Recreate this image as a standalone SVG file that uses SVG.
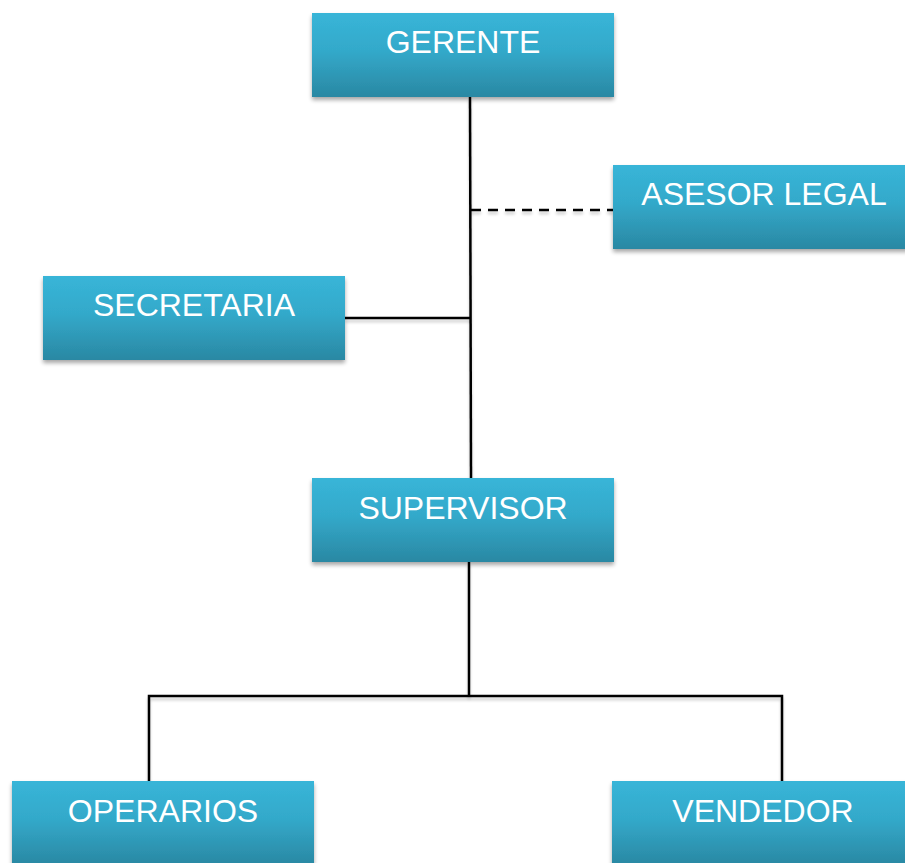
<svg xmlns="http://www.w3.org/2000/svg" width="905" height="863" viewBox="0 0 905 863">
<style>
.box{fill:url(#g);filter:url(#sh);}
.lbl{font-family:"Liberation Sans",Arial,sans-serif;font-size:32px;fill:#ffffff;text-anchor:middle;}
.ln{stroke:#000;stroke-width:2.5;fill:none;filter:url(#sh2);}
</style>
<defs>
<linearGradient id="g" x1="0" y1="0" x2="0" y2="1">
<stop offset="0" stop-color="#38b5d8"/>
<stop offset="0.45" stop-color="#33a9ca"/>
<stop offset="1" stop-color="#2a88a3"/>
</linearGradient>
<filter id="sh" x="-10%" y="-10%" width="120%" height="130%">
<feGaussianBlur in="SourceAlpha" stdDeviation="2"/>
<feOffset dx="0" dy="3" result="b"/>
<feComponentTransfer><feFuncA type="linear" slope="0.35"/></feComponentTransfer>
<feMerge><feMergeNode/><feMergeNode in="SourceGraphic"/></feMerge>
</filter>
<filter id="sh2" filterUnits="userSpaceOnUse" x="0" y="0" width="905" height="863">
<feGaussianBlur in="SourceAlpha" stdDeviation="1.5"/>
<feOffset dx="0" dy="3"/>
<feComponentTransfer><feFuncA type="linear" slope="0.2"/></feComponentTransfer>
<feMerge><feMergeNode/><feMergeNode in="SourceGraphic"/></feMerge>
</filter>
</defs>
<g id="connectors">
<line class="ln" x1="470" y1="97" x2="471" y2="478"/>
<line class="ln" x1="471" y1="210" x2="613" y2="210" stroke-dasharray="10,7"/>
<line class="ln" x1="345" y1="318" x2="471" y2="318"/>
<line class="ln" x1="469" y1="562" x2="469" y2="696"/>
<polyline class="ln" points="149,782 149,696 782,696 782,782"/>
</g>
<g id="gerente"><rect class="box" x="312" y="13" width="302" height="84"/><text class="lbl" x="463" y="53">GERENTE</text></g>
<g id="asesor"><rect class="box" x="613" y="165" width="302" height="84"/><text class="lbl" x="764" y="205">ASESOR LEGAL</text></g>
<g id="secretaria"><rect class="box" x="43" y="276" width="302" height="84"/><text class="lbl" x="194" y="316">SECRETARIA</text></g>
<g id="supervisor"><rect class="box" x="312" y="478" width="302" height="84"/><text class="lbl" x="463" y="519">SUPERVISOR</text></g>
<g id="operarios"><rect class="box" x="12" y="781" width="302" height="84"/><text class="lbl" x="163" y="822">OPERARIOS</text></g>
<g id="vendedor"><rect class="box" x="612" y="781" width="302" height="84"/><text class="lbl" x="763" y="822">VENDEDOR</text></g>
</svg>
